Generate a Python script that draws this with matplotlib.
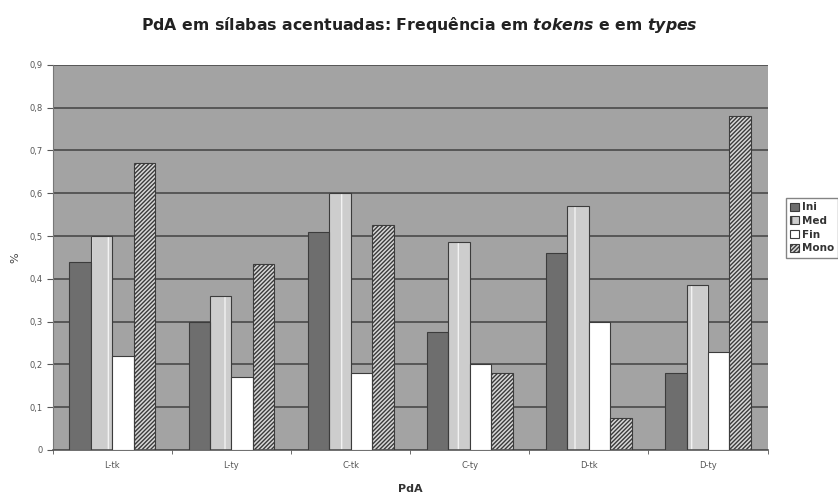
import numpy as np
import matplotlib.pyplot as plt

categories = ["L-tk", "L-ty", "C-tk", "C-ty", "D-tk", "D-ty"]
ini = [0.44, 0.30, 0.51, 0.275, 0.46, 0.18]
med = [0.50, 0.36, 0.60, 0.485, 0.57, 0.385]
fin = [0.22, 0.17, 0.18, 0.20, 0.30, 0.23]
mono = [0.67, 0.435, 0.525, 0.18, 0.075, 0.78]
series_names = ["Ini", "Med", "Fin", "Mono"]
yticks = [0, 0.1, 0.2, 0.3, 0.4, 0.5, 0.6, 0.7, 0.8, 0.9]

fig = plt.figure(figsize=(8.38, 4.95), dpi=100)
ax = fig.add_axes([0.063, 0.091, 0.853, 0.778])
ax.set_facecolor("#a3a3a3")

x = np.arange(len(categories))
w = 0.18
offsets = [-1.5 * w, -0.5 * w, 0.5 * w, 1.5 * w]

# styles: face, hatch, hatch colour
styles = [("#6e6e6e", None, None),
          ("#cdcdcd", "|", "#f2f2f2"),
          ("#ffffff", None, None),
          ("#d8d8d8", "////////", "#3a3a3a")]

ax.set_axisbelow(True)
ax.yaxis.grid(True, color="#4a4a4a", linewidth=1.2)

handles = []
for vals, off, name, (fc, hatch, hc) in zip([ini, med, fin, mono], offsets, series_names, styles):
    if hatch:
        ax.bar(x + off, vals, w, color=fc, hatch=hatch, edgecolor=hc, linewidth=0, zorder=2)
        ax.bar(x + off, vals, w, fill=False, edgecolor="#3c3c3c", linewidth=0.8, zorder=3)
        h = ax.bar([0], [0], 0, color=fc, hatch=hatch, edgecolor="#3c3c3c", linewidth=0.8, label=name)
    else:
        h = ax.bar(x + off, vals, w, color=fc, edgecolor="#3c3c3c", linewidth=0.8, zorder=3, label=name)
    handles.append(h)

ax.set_xlim(-0.5, len(categories) - 0.5)
ax.set_ylim(0, 0.9)
ax.set_yticks(yticks)
ax.set_yticklabels(["0"] + [("%.1f" % v).replace(".", ",") for v in yticks[1:]])
ax.set_xticks(x)
ax.set_xticklabels(categories)
ax.set_xticks(np.arange(len(categories) + 1) - 0.5, minor=True)
ax.tick_params(axis="x", which="major", length=0, pad=8, labelsize=6, labelcolor="#555555")
ax.tick_params(axis="x", which="minor", length=3, color="#555555")
ax.tick_params(axis="y", length=4, labelsize=6, labelcolor="#555555", color="#555555")

for s in ["top", "right"]:
    ax.spines[s].set_visible(False)
ax.spines["left"].set_color("#777777")
ax.spines["bottom"].set_color("#555555")
ax.spines["bottom"].set_linewidth(1.2)

ax.set_ylabel("%", fontsize=8, color="#444444", labelpad=6)
ax.set_xlabel("PdA", fontsize=8, fontweight="bold", color="#333333", labelpad=10)

fig.text(0.5, 0.95,
         r"PdA em sílabas acentuadas: Frequência em $\mathbfit{tokens}$ e em $\mathbfit{types}$",
         ha="center", va="center", fontsize=11.3, fontweight="bold", color="#222222")

leg = fig.legend(handles=handles, loc="upper left", bbox_to_anchor=(0.932, 0.61),
                 fontsize=7.5, frameon=True, fancybox=False, edgecolor="#666666",
                 handlelength=0.8, handleheight=0.8, handletextpad=0.3,
                 borderpad=0.4, labelspacing=0.35)
for t in leg.get_texts():
    t.set_fontweight("bold")
    t.set_color("#333333")

fig.savefig("out.png", dpi=100)
